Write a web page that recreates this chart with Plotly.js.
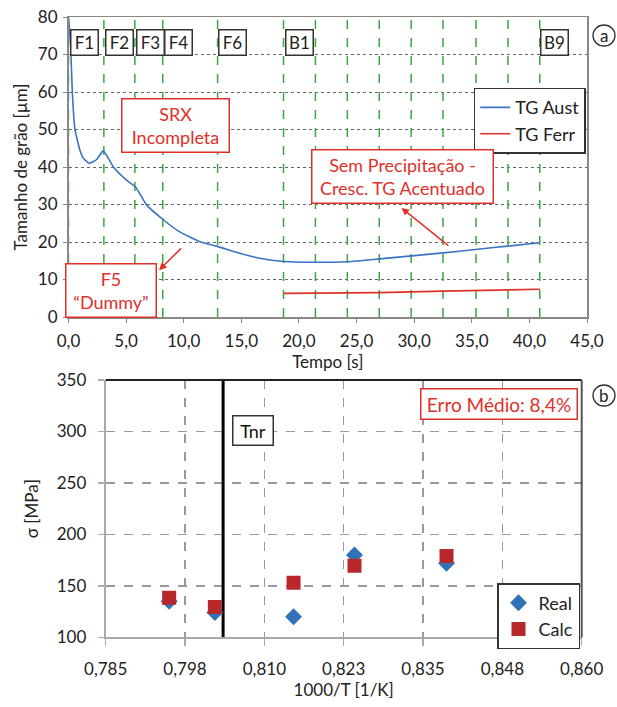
<!DOCTYPE html>
<html><head><meta charset="utf-8">
<script src="https://cdn.plot.ly/plotly-3.0.1.min.js"></script>
<style>html,body{margin:0;padding:0;background:#fff}#chart{width:617px;height:707px}</style>
</head><body><div id="chart"></div>
<script>
// ---- Data: panel (a) ----
const austTime = [0, 0.19, 0.33, 0.56, 0.99, 1.3, 1.8, 2.44, 3.01, 3.88, 5.04, 5.84, 6.77, 8.2, 9.65, 11.4, 12.83, 14.85, 16.6, 18.7, 21.4, 24.2, 27.0, 29.8, 32.5, 35.3, 38.1, 40.9];
const austSize = [80, 72, 60, 50, 44.5, 42.3, 41, 42, 44.3, 40.1, 36.5, 34.6, 29.9, 26.0, 22.7, 20.1, 18.9, 17.0, 15.65, 14.8, 14.6, 14.75, 15.5, 16.3, 17.1, 18.0, 18.9, 19.8];
const ferrTime = [18.7, 21.4, 27.0, 32.5, 38.1, 40.9];
const ferrSize = [6.3, 6.35, 6.5, 6.9, 7.2, 7.4];
const standTimes = [0, 3.07, 5.76, 8.18, 12.94, 18.66, 21.43, 24.2, 26.97, 29.74, 32.5, 35.37, 38.14, 40.9];
const standLabels = ['F1', 'F2', 'F3', 'F4', 'F6', 'B1', 'B9'];
const standLabelTimes = [0.15, 3.15, 5.85, 8.25, 13.0, 18.75, 40.95];
// ---- Data: panel (b) ----
const invT = [0.7950, 0.8022, 0.8146, 0.8242, 0.8387];
const sigmaReal = [135, 124, 120, 180, 172];
const sigmaCalc = [138.5, 129.5, 153, 169.5, 179];
const tnrX = 0.8035;
const bTickVals = [0.785, 0.7975, 0.81, 0.8225, 0.835, 0.8475, 0.86];
const bTickText = ['0,785', '0,798', '0,810', '0,823', '0,835', '0,848', '0,860'];

const FONT = 'Lato, "Open Sans", sans-serif';
const W = 617, H = 707;
const px = v => v / W, py = v => 1 - v / H;

// green stand lines as one trace with gaps
const gx = [], gy = [];
standTimes.forEach(t => { gx.push(t, t, null); gy.push(0, 80, null); });

const traces = [
  {x: gx, y: gy, mode: 'lines', line: {color: '#3aa83a', width: 1.5, dash: 'dash'}, showlegend: false, hoverinfo: 'skip', xaxis: 'x', yaxis: 'y'},
  {x: austTime, y: austSize, name: 'TG Aust', mode: 'lines', line: {color: '#3b73c2', width: 1.6, shape: 'spline', smoothing: 0.45}, xaxis: 'x', yaxis: 'y', legend: 'legend'},
  {x: ferrTime, y: ferrSize, name: 'TG Ferr', mode: 'lines', line: {color: '#e0302a', width: 1.6}, xaxis: 'x', yaxis: 'y', legend: 'legend'},
  {x: [tnrX, tnrX], y: [100, 350], mode: 'lines', line: {color: '#000', width: 3}, showlegend: false, hoverinfo: 'skip', xaxis: 'x2', yaxis: 'y2'},
  {x: invT, y: sigmaReal, name: 'Real', mode: 'markers', marker: {symbol: 'diamond', size: 13, color: '#2f72b8'}, xaxis: 'x2', yaxis: 'y2', legend: 'legend2'},
  {x: invT, y: sigmaCalc, name: 'Calc', mode: 'markers', marker: {symbol: 'square', size: 14, color: '#b8282b'}, xaxis: 'x2', yaxis: 'y2', legend: 'legend2'}
];

const annotations = [];
standLabels.forEach((s, i) => annotations.push({
  xref: 'x', yref: 'y', x: standLabelTimes[i], y: 73.3, xanchor: 'left', yanchor: 'middle',
  text: s, showarrow: false, font: {family: FONT, size: 17, color: '#222'},
  bgcolor: '#fff', bordercolor: '#333', borderwidth: 1.5, borderpad: 1, width: 24, height: 22
}));
const redFont = {family: FONT, size: 18, color: '#e0302a'};
annotations.push(
  {xref: 'x', yref: 'y', x: 9.3, y: 51.2, text: 'SRX<br>Incompleta', showarrow: false, font: redFont, bgcolor: '#fff', bordercolor: '#e0302a', borderwidth: 1.5, borderpad: 2, width: 102, height: 48},
  {xref: 'x', yref: 'y', x: 3.72, y: 7.2, text: 'F5<br>“Dummy”', showarrow: false, font: redFont, bgcolor: '#fff', bordercolor: '#e0302a', borderwidth: 1.5, borderpad: 2, width: 85, height: 48},
  {xref: 'x', yref: 'y', x: 29.0, y: 37.6, text: 'Sem Precipitação -<br>Cresc. TG Acentuado', showarrow: false, font: redFont, bgcolor: '#fff', bordercolor: '#e0302a', borderwidth: 1.5, borderpad: 2, width: 176, height: 48},
  {xref: 'x', yref: 'y', x: 7.86, y: 12.5, axref: 'x', ayref: 'y', ax: 9.9, ay: 18.7, text: '', showarrow: true, arrowhead: 2, arrowsize: 1, arrowwidth: 1.5, arrowcolor: '#e0302a'},
  {xref: 'x', yref: 'y', x: 28.9, y: 29.1, axref: 'x', ayref: 'y', ax: 33.1, ay: 18.7, text: '', showarrow: true, arrowhead: 2, arrowsize: 1, arrowwidth: 1.5, arrowcolor: '#e0302a'},
  {xref: 'x2', yref: 'y2', x: 0.8469, y: 326.6, text: 'Erro Médio: 8,4%', showarrow: false, font: {family: FONT, size: 19, color: '#e0302a'}, bgcolor: '#fff', bordercolor: '#e0302a', borderwidth: 1.5, borderpad: 2, width: 151, height: 25},
  {xref: 'x2', yref: 'y2', x: 0.8082, y: 301, text: 'Tnr', showarrow: false, font: {family: FONT, size: 18, color: '#111'}, bgcolor: '#fff', bordercolor: '#333', borderwidth: 1.5, borderpad: 2, width: 35, height: 24},
  {xref: 'paper', yref: 'paper', x: px(604), y: py(35), xanchor: 'center', yanchor: 'middle', text: 'a', showarrow: false, font: {family: FONT, size: 17, color: '#222'}},
  {xref: 'paper', yref: 'paper', x: px(604), y: py(395), xanchor: 'center', yanchor: 'middle', text: 'b', showarrow: false, font: {family: FONT, size: 17, color: '#222'}}
);

const shapes = [
  {type: 'circle', xref: 'paper', yref: 'paper', x0: px(593), x1: px(615), y0: py(25), y1: py(46), line: {color: '#333', width: 1.3}},
  {type: 'circle', xref: 'paper', yref: 'paper', x0: px(593), x1: px(615), y0: py(385), y1: py(406), line: {color: '#333', width: 1.3}},
  {type: 'line', xref: 'x2 domain', yref: 'y2 domain', x0: 0, x1: 1, y0: 1, y1: 1, line: {color: '#222', width: 2}},
  {type: 'line', xref: 'x2 domain', yref: 'y2 domain', x0: 1, x1: 1, y0: 0, y1: 1, line: {color: '#555', width: 2}}
];

const tickFont = {family: FONT, size: 17, color: '#222'};
const titleFont = {family: FONT, size: 17, color: '#222'};

const layout = {
  width: W, height: H, margin: {l: 0, r: 0, t: 0, b: 0},
  paper_bgcolor: '#fff', plot_bgcolor: '#fff',
  separators: ',.',
  font: {family: FONT, color: '#222'},
  xaxis: {domain: [px(68.5), px(587)], range: [0, 45], dtick: 5, tick0: 0, tickformat: '.1f', showgrid: false, zeroline: false,
    showline: true, linecolor: '#888', linewidth: 1.5, mirror: true, ticks: 'outside', ticklen: 4, tickcolor: '#888',
    tickfont: tickFont, ticklabelstandoff: 4, title: {text: 'Tempo [s]', font: titleFont, standoff: 2}, anchor: 'y', automargin: false},
  yaxis: {domain: [py(317), py(17)], range: [0, 80], dtick: 10, showgrid: true, gridcolor: '#666', griddash: 'dot', gridwidth: 1, zeroline: false,
    showline: true, linecolor: '#888', linewidth: 1.5, mirror: true, ticks: 'outside', ticklen: 4, tickcolor: '#888',
    tickfont: tickFont, ticklabelstandoff: 2, title: {text: 'Tamanho de grão [µm]', font: titleFont, standoff: 6}, anchor: 'x', automargin: false},
  xaxis2: {domain: [px(105.7), px(581.7)], range: [0.785, 0.86], tickvals: bTickVals, ticktext: bTickText, showgrid: true, gridcolor: '#999', griddash: 'dash', gridwidth: 1.5, zeroline: false,
    showline: true, linecolor: '#aaa', linewidth: 2, ticks: 'outside', ticklen: 7, tickcolor: '#aaa', tickwidth: 1.5,
    tickfont: tickFont, ticklabelstandoff: 8, title: {text: '1000/T [1/K]', font: titleFont, standoff: 4}, anchor: 'y2', automargin: false},
  yaxis2: {domain: [py(637.3), py(380)], range: [100, 350], dtick: 50, showgrid: true, gridcolor: '#999', griddash: 'dash', gridwidth: 1.5, zeroline: false,
    showline: true, linecolor: '#aaa', linewidth: 2, ticks: 'outside', ticklen: 6, tickcolor: '#aaa', tickwidth: 1.5,
    tickfont: tickFont, ticklabelstandoff: 8, title: {text: 'σ [MPa]', font: titleFont, standoff: 14}, anchor: 'x2', automargin: false},
  legend: {x: px(585.7), xanchor: 'right', y: py(87.7), yanchor: 'top', bgcolor: '#fff', bordercolor: '#333', borderwidth: 1.5,
    font: {family: FONT, size: 18, color: '#222'}, tracegroupgap: 0, itemwidth: 30},
  legend2: {x: px(580), xanchor: 'right', y: py(583), yanchor: 'top', bgcolor: '#fff', bordercolor: '#333', borderwidth: 1.5,
    font: {family: FONT, size: 18, color: '#222'}, tracegroupgap: 0, itemwidth: 30},
  annotations: annotations,
  shapes: shapes
};

Plotly.newPlot('chart', traces, layout, {staticPlot: true, displayModeBar: false});
</script>
</body></html>
